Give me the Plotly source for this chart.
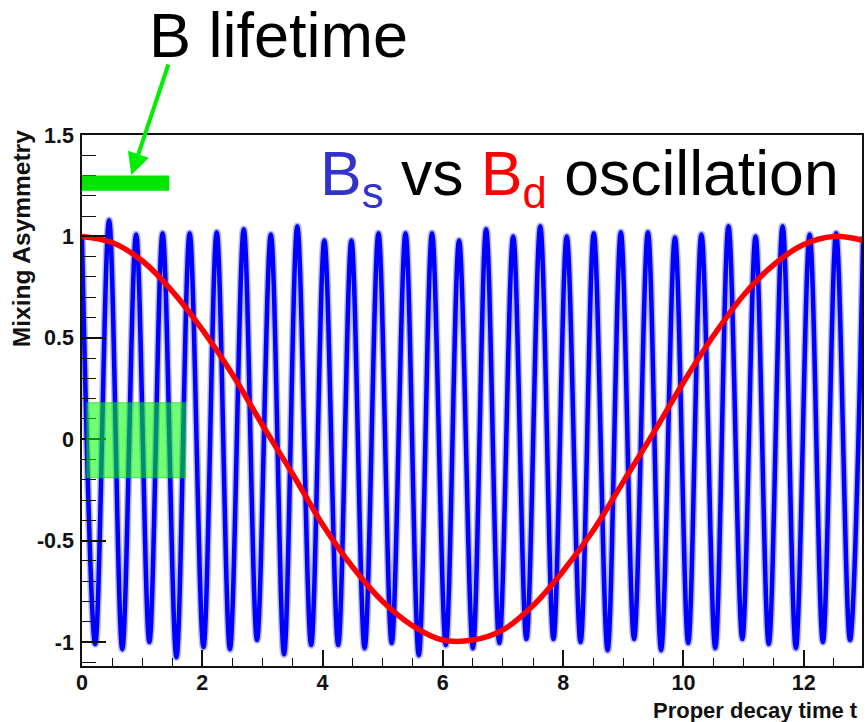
import plotly.graph_objects as go

# Bs oscillation: turning points of the mixing asymmetry (proper time, value)
bs_peak_t = [0.00, 0.45, 0.90, 1.34, 1.79, 2.24, 2.69, 3.14, 3.58, 4.03,
             4.48, 4.93, 5.38, 5.82, 6.27, 6.72, 7.17, 7.62, 8.06, 8.51,
             8.96, 9.41, 9.86, 10.30, 10.75, 11.20, 11.65, 12.10, 12.54, 12.99]
bs_peak_v = [0.99, 1.08, 1.01, 1.015, 1.015, 1.02, 1.035, 1.01, 1.05, 0.98,
             0.98, 1.015, 1.015, 1.015, 0.98, 1.035, 1.00, 1.05, 1.00, 1.015,
             1.02, 1.02, 0.995, 1.01, 1.05, 1.00, 1.05, 1.01, 1.015, 1.00]
bs_trough_t = [0.22, 0.67, 1.12, 1.57, 2.02, 2.46, 2.91, 3.36, 3.81, 4.26,
               4.70, 5.15, 5.60, 6.05, 6.50, 6.94, 7.39, 7.84, 8.29, 8.74,
               9.18, 9.63, 10.08, 10.53, 10.98, 11.42, 11.87, 12.32, 12.77]
bs_trough_v = [-1.01, -1.035, -1.00, -1.075, -1.025, -1.035, -0.99, -1.06, -1.015, -1.015,
               -1.03, -1.005, -1.065, -1.015, -1.03, -1.005, -0.985, -0.985, -1.00, -1.04,
               -0.985, -1.04, -1.005, -1.03, -0.985, -1.01, -1.03, -1.00, -0.99]

# Bd oscillation sampled every 0.5 in proper time
bd_t = [0.0, 0.5, 1.0, 1.5, 2.0, 2.5, 3.0, 3.5, 4.0, 4.5, 5.0, 5.5, 6.0, 6.5,
        7.0, 7.5, 8.0, 8.5, 9.0, 9.5, 10.0, 10.5, 11.0, 11.5, 12.0, 12.5, 13.0]
bd_v = [1.00, 0.97, 0.88, 0.73, 0.54, 0.32, 0.07, -0.17, -0.42, -0.63, -0.80, -0.92, -0.99, -0.99,
        -0.94, -0.82, -0.65, -0.45, -0.21, 0.03, 0.28, 0.51, 0.71, 0.86, 0.96, 1.00, 0.98]

x_tick_vals = [0, 2, 4, 6, 8, 10, 12]
x_tick_text = ["0", "2", "4", "6", "8", "10", "12"]
y_tick_vals = [-1, -0.5, 0, 0.5, 1, 1.5]
y_tick_text = ["-1", "-0.5", "0", "0.5", "1", "1.5"]

# merge turning points into one time-ordered series
bs_pts = sorted(zip(bs_peak_t + bs_trough_t, bs_peak_v + bs_trough_v))
bs_t = [p[0] for p in bs_pts]
bs_v = [p[1] for p in bs_pts]

W, H = 865, 722
L, R, T, B = 82, 1, 135, 56
PW, PH = W - L - R, H - T - B


def px(xp):
    return (xp - L) / PW


def py(yp):
    return (H - B - yp) / PH


FONT = "Liberation Sans, Arial, Helvetica, sans-serif"

fig = go.Figure()
fig.add_trace(go.Scatter(x=bs_t, y=bs_v, mode="lines",
                         line=dict(color="#b8b8ff", width=7.5, shape="spline", smoothing=1),
                         hoverinfo="skip"))
fig.add_trace(go.Scatter(x=bs_t, y=bs_v, mode="lines",
                         line=dict(color="#0000ff", width=4.5, shape="spline", smoothing=1)))
fig.add_trace(go.Scatter(x=bd_t, y=bd_v, mode="lines",
                         line=dict(color="#ff0000", width=5.5, shape="spline", smoothing=1)))

# lifetime bar and the shaded window around zero
fig.add_shape(type="rect", xref="x", yref="y", x0=0.0, x1=1.45, y0=1.225, y1=1.30,
              fillcolor="#00e600", line=dict(width=0), layer="above")
fig.add_shape(type="rect", xref="x", yref="y", x0=0.08, x1=1.72, y0=-0.19, y1=0.18,
              fillcolor="rgba(0,255,0,0.55)", line=dict(color="rgba(0,200,0,0.6)", width=1),
              layer="above")

tick_font = dict(family=FONT, size=21.5, color="#111111", weight="bold")

fig.update_xaxes(range=[0, 12.97], showgrid=False, zeroline=False,
                 showline=True, linecolor="#111111", linewidth=1.5, mirror=True,
                 ticks="inside", ticklen=16, tickwidth=1.5, tickcolor="#111111",
                 tickmode="array", tickvals=x_tick_vals, ticktext=x_tick_text,
                 tickfont=tick_font, ticklabelstandoff=-4,
                 minor=dict(ticks="inside", ticklen=8, tickwidth=1.2, tickcolor="#111111",
                            tickmode="linear", tick0=0, dtick=0.5, showgrid=False))
fig.update_yaxes(range=[-1.118, 1.5], showgrid=False, zeroline=False,
                 showline=True, linecolor="#111111", linewidth=1.5, mirror=True,
                 ticks="inside", ticklen=24, tickwidth=1.5, tickcolor="#111111",
                 tickmode="array", tickvals=y_tick_vals, ticktext=y_tick_text,
                 tickfont=tick_font, ticklabelstandoff=2,
                 minor=dict(ticks="inside", ticklen=14, tickwidth=1.2, tickcolor="#111111",
                            tickmode="linear", tick0=0, dtick=0.1, showgrid=False))

annotations = [
    dict(text="B lifetime", x=px(147), y=py(35), xref="paper", yref="paper",
         xanchor="left", yanchor="middle", showarrow=False,
         font=dict(family=FONT, size=63, color="#000000")),
    dict(text='<span style="color:#3333cc">B<sub>s</sub></span> vs '
              '<span style="color:#ff0000">B<sub>d</sub></span> oscillation',
         x=px(319), y=py(177), xref="paper", yref="paper",
         xanchor="left", yanchor="middle", showarrow=False,
         font=dict(family=FONT, size=62.5, color="#000000")),
    dict(text="Mixing Asymmetry", x=px(21), y=py(239), xref="paper", yref="paper",
         xanchor="center", yanchor="middle", textangle=-90, showarrow=False,
         font=dict(family=FONT, size=24.5, color="#111111", weight="bold")),
    dict(text="Proper decay time t", x=px(652), y=py(710), xref="paper", yref="paper",
         xanchor="left", yanchor="middle", showarrow=False,
         font=dict(family=FONT, size=22, color="#111111", weight="bold")),
    # arrow from the label down to the lifetime bar
    dict(text="", x=px(131.5), y=py(175), xref="paper", yref="paper",
         ax=169 - 131.5, ay=63 - 175, axref="pixel", ayref="pixel",
         showarrow=True, arrowhead=2, arrowsize=1.1, arrowwidth=4,
         arrowcolor="#00ee00", standoff=0),
]

fig.update_layout(width=W, height=H, autosize=False,
                  margin=dict(l=L, r=R, t=T, b=B, pad=0),
                  paper_bgcolor="white", plot_bgcolor="white",
                  showlegend=False, annotations=annotations)

fig.write_html("out.html")
